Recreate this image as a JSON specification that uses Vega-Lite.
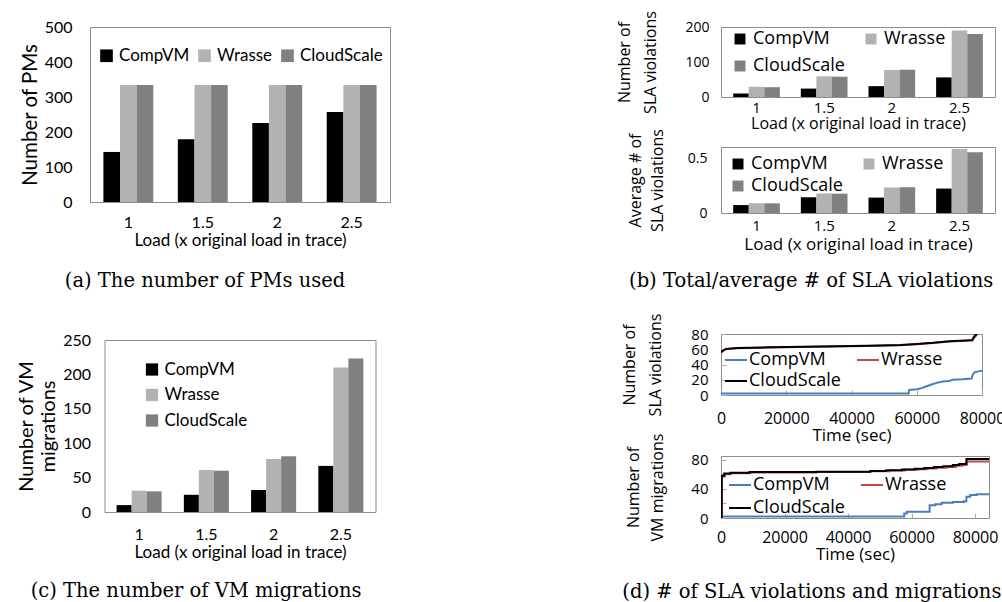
{
  "$schema": "https://vega.github.io/schema/vega-lite/v6.json",
  "background": "white",
  "padding": {"left": 16, "top": 10, "right": 0, "bottom": 0},
  "config": {
    "view": {"stroke": "#8c8c8c", "strokeWidth": 1},
    "axis": {"domain": false, "ticks": false, "grid": false, "labelColor": "#000", "titleColor": "#000", "titleFontWeight": "normal"},
    "legend": {"title": null, "labelColor": "#000"},
    "title": {"font": "DejaVu Serif", "fontSize": 19.5, "fontWeight": "normal", "color": "#000"}
  },
  "datasets": {
    "pms": [
      {"load": "1", "algo": "CompVM", "value": 143}, {"load": "1", "algo": "Wrasse", "value": 334}, {"load": "1", "algo": "CloudScale", "value": 334},
      {"load": "1.5", "algo": "CompVM", "value": 179}, {"load": "1.5", "algo": "Wrasse", "value": 334}, {"load": "1.5", "algo": "CloudScale", "value": 334},
      {"load": "2", "algo": "CompVM", "value": 226}, {"load": "2", "algo": "Wrasse", "value": 334}, {"load": "2", "algo": "CloudScale", "value": 334},
      {"load": "2.5", "algo": "CompVM", "value": 257}, {"load": "2.5", "algo": "Wrasse", "value": 334}, {"load": "2.5", "algo": "CloudScale", "value": 334}
    ],
    "migr": [
      {"load": "1", "algo": "CompVM", "value": 10}, {"load": "1", "algo": "Wrasse", "value": 31}, {"load": "1", "algo": "CloudScale", "value": 30},
      {"load": "1.5", "algo": "CompVM", "value": 25}, {"load": "1.5", "algo": "Wrasse", "value": 61}, {"load": "1.5", "algo": "CloudScale", "value": 60},
      {"load": "2", "algo": "CompVM", "value": 32}, {"load": "2", "algo": "Wrasse", "value": 77}, {"load": "2", "algo": "CloudScale", "value": 81},
      {"load": "2.5", "algo": "CompVM", "value": 67}, {"load": "2.5", "algo": "Wrasse", "value": 210}, {"load": "2.5", "algo": "CloudScale", "value": 223}
    ],
    "slatotal": [
      {"load": "1", "algo": "CompVM", "value": 10}, {"load": "1", "algo": "Wrasse", "value": 29}, {"load": "1", "algo": "CloudScale", "value": 28},
      {"load": "1.5", "algo": "CompVM", "value": 24}, {"load": "1.5", "algo": "Wrasse", "value": 59}, {"load": "1.5", "algo": "CloudScale", "value": 58},
      {"load": "2", "algo": "CompVM", "value": 31}, {"load": "2", "algo": "Wrasse", "value": 77}, {"load": "2", "algo": "CloudScale", "value": 78},
      {"load": "2.5", "algo": "CompVM", "value": 56}, {"load": "2.5", "algo": "Wrasse", "value": 190}, {"load": "2.5", "algo": "CloudScale", "value": 180}
    ],
    "slaavg": [
      {"load": "1", "algo": "CompVM", "value": 0.072}, {"load": "1", "algo": "Wrasse", "value": 0.088}, {"load": "1", "algo": "CloudScale", "value": 0.088},
      {"load": "1.5", "algo": "CompVM", "value": 0.143}, {"load": "1.5", "algo": "Wrasse", "value": 0.178}, {"load": "1.5", "algo": "CloudScale", "value": 0.176},
      {"load": "2", "algo": "CompVM", "value": 0.14}, {"load": "2", "algo": "Wrasse", "value": 0.232}, {"load": "2", "algo": "CloudScale", "value": 0.234},
      {"load": "2.5", "algo": "CompVM", "value": 0.222}, {"load": "2.5", "algo": "Wrasse", "value": 0.582}, {"load": "2.5", "algo": "CloudScale", "value": 0.553}
    ],
    "slatime": [
      {"algo": "CompVM", "t": 0, "v": 2}, {"algo": "CompVM", "t": 57500, "v": 2}, {"algo": "CompVM", "t": 57700, "v": 6.5}, {"algo": "CompVM", "t": 60000, "v": 7.5},
      {"algo": "CompVM", "t": 61500, "v": 9}, {"algo": "CompVM", "t": 63000, "v": 11.5}, {"algo": "CompVM", "t": 65000, "v": 14.5}, {"algo": "CompVM", "t": 66500, "v": 16.5},
      {"algo": "CompVM", "t": 68500, "v": 18}, {"algo": "CompVM", "t": 70000, "v": 18.5}, {"algo": "CompVM", "t": 71000, "v": 20}, {"algo": "CompVM", "t": 74000, "v": 20.5},
      {"algo": "CompVM", "t": 76800, "v": 21.5}, {"algo": "CompVM", "t": 77200, "v": 27}, {"algo": "CompVM", "t": 77800, "v": 30}, {"algo": "CompVM", "t": 79000, "v": 31}, {"algo": "CompVM", "t": 80000, "v": 32},
      {"algo": "Wrasse", "t": 0, "v": 55}, {"algo": "Wrasse", "t": 500, "v": 57.5}, {"algo": "Wrasse", "t": 1500, "v": 60}, {"algo": "Wrasse", "t": 5000, "v": 61.2},
      {"algo": "Wrasse", "t": 15000, "v": 62.3}, {"algo": "Wrasse", "t": 30000, "v": 63.3}, {"algo": "Wrasse", "t": 45000, "v": 64.3}, {"algo": "Wrasse", "t": 55000, "v": 65.3},
      {"algo": "Wrasse", "t": 60000, "v": 66.7}, {"algo": "Wrasse", "t": 65000, "v": 68.2}, {"algo": "Wrasse", "t": 70000, "v": 70}, {"algo": "Wrasse", "t": 75000, "v": 71},
      {"algo": "Wrasse", "t": 77000, "v": 71.5}, {"algo": "Wrasse", "t": 77600, "v": 75}, {"algo": "Wrasse", "t": 78200, "v": 78}, {"algo": "Wrasse", "t": 78600, "v": 80},
      {"algo": "CloudScale", "t": 0, "v": 56}, {"algo": "CloudScale", "t": 500, "v": 58}, {"algo": "CloudScale", "t": 1500, "v": 60.5}, {"algo": "CloudScale", "t": 5000, "v": 61.5},
      {"algo": "CloudScale", "t": 15000, "v": 62.5}, {"algo": "CloudScale", "t": 30000, "v": 63.5}, {"algo": "CloudScale", "t": 45000, "v": 64.5}, {"algo": "CloudScale", "t": 55000, "v": 65.5},
      {"algo": "CloudScale", "t": 60000, "v": 67}, {"algo": "CloudScale", "t": 65000, "v": 68.5}, {"algo": "CloudScale", "t": 70000, "v": 70.5}, {"algo": "CloudScale", "t": 75000, "v": 71.5},
      {"algo": "CloudScale", "t": 77000, "v": 72}, {"algo": "CloudScale", "t": 77500, "v": 76}, {"algo": "CloudScale", "t": 78000, "v": 79}, {"algo": "CloudScale", "t": 78500, "v": 80}
    ],
    "migrtime": [
      {"algo": "CompVM", "t": 0, "v": 2}, {"algo": "CompVM", "t": 57500, "v": 2}, {"algo": "CompVM", "t": 57700, "v": 6}, {"algo": "CompVM", "t": 58500, "v": 8.7},
      {"algo": "CompVM", "t": 65700, "v": 17.5}, {"algo": "CompVM", "t": 67500, "v": 19}, {"algo": "CompVM", "t": 69500, "v": 21}, {"algo": "CompVM", "t": 73000, "v": 22},
      {"algo": "CompVM", "t": 76500, "v": 23}, {"algo": "CompVM", "t": 77300, "v": 29}, {"algo": "CompVM", "t": 78500, "v": 31.5}, {"algo": "CompVM", "t": 80500, "v": 32.5}, {"algo": "CompVM", "t": 84400, "v": 32.5},
      {"algo": "Wrasse", "t": 0, "v": 0}, {"algo": "Wrasse", "t": 300, "v": 57}, {"algo": "Wrasse", "t": 1200, "v": 60}, {"algo": "Wrasse", "t": 3000, "v": 61.5},
      {"algo": "Wrasse", "t": 9000, "v": 62.5}, {"algo": "Wrasse", "t": 30000, "v": 63}, {"algo": "Wrasse", "t": 47000, "v": 64}, {"algo": "Wrasse", "t": 53000, "v": 65},
      {"algo": "Wrasse", "t": 58000, "v": 66}, {"algo": "Wrasse", "t": 62000, "v": 67}, {"algo": "Wrasse", "t": 65000, "v": 68}, {"algo": "Wrasse", "t": 68000, "v": 69},
      {"algo": "Wrasse", "t": 71000, "v": 70}, {"algo": "Wrasse", "t": 74000, "v": 71.5}, {"algo": "Wrasse", "t": 76000, "v": 72.5}, {"algo": "Wrasse", "t": 77300, "v": 77.5}, {"algo": "Wrasse", "t": 84400, "v": 78},
      {"algo": "CloudScale", "t": 0, "v": 0}, {"algo": "CloudScale", "t": 200, "v": 58}, {"algo": "CloudScale", "t": 1000, "v": 61}, {"algo": "CloudScale", "t": 3000, "v": 62},
      {"algo": "CloudScale", "t": 9000, "v": 63}, {"algo": "CloudScale", "t": 30000, "v": 63.5}, {"algo": "CloudScale", "t": 47000, "v": 64.5}, {"algo": "CloudScale", "t": 52000, "v": 65.5},
      {"algo": "CloudScale", "t": 57000, "v": 66.5}, {"algo": "CloudScale", "t": 61000, "v": 67.5}, {"algo": "CloudScale", "t": 64000, "v": 68.5}, {"algo": "CloudScale", "t": 67000, "v": 70},
      {"algo": "CloudScale", "t": 70000, "v": 71}, {"algo": "CloudScale", "t": 73000, "v": 72.5}, {"algo": "CloudScale", "t": 75000, "v": 74}, {"algo": "CloudScale", "t": 77300, "v": 81}, {"algo": "CloudScale", "t": 84400, "v": 81.5}
    ]
  },
  "bounds": "flush",
  "spacing": 631,
  "resolve": {"scale": {"color": "independent", "x": "independent", "y": "independent", "xOffset": "independent"}, "legend": {"color": "independent"}},
  "hconcat": [
    {
      "bounds": "flush",
      "spacing": 138,
      "center": true,
      "resolve": {"scale": {"color": "independent", "x": "independent", "y": "independent", "xOffset": "independent"}, "legend": {"color": "independent"}},
      "vconcat": [
        {
          "width": 300, "height": 175,
          "data": {"name": "pms"},
          "mark": {"type": "bar"},
          "title": {"text": "(a) The number of PMs used", "orient": "bottom", "anchor": "middle", "frame": "bounds", "offset": 24},
          "encoding": {
            "x": {"field": "load", "type": "nominal", "scale": {"paddingInner": 0.33, "paddingOuter": 0.18},
                  "axis": {"title": "Load (x original load in trace)", "labelAngle": 0, "labelFont": "Lato", "labelFontSize": 16, "titleFont": "Lato", "titleFontSize": 17, "labelPadding": 12, "titlePadding": 2}},
            "xOffset": {"field": "algo", "type": "nominal", "sort": ["CompVM", "Wrasse", "CloudScale"], "scale": {"paddingInner": 0, "paddingOuter": 0}},
            "y": {"field": "value", "type": "quantitative", "scale": {"domain": [0, 500], "nice": false},
                  "axis": {"title": "Number of PMs", "values": [0, 100, 200, 300, 400, 500], "labelFont": "Lato", "labelFontSize": 16, "titleFont": "Lato", "titleFontSize": 20.5, "labelPadding": 18, "titlePadding": 4}},
            "color": {"field": "algo", "type": "nominal", "sort": ["CompVM", "Wrasse", "CloudScale"],
                      "scale": {"domain": ["CompVM", "Wrasse", "CloudScale"], "range": ["#000000", "#b2b2b2", "#808080"]},
                      "legend": {"orient": "none", "legendX": 8, "legendY": 20, "direction": "horizontal", "columns": 3, "symbolType": "square", "symbolSize": 160, "symbolStrokeWidth": 0, "labelFont": "Lato", "labelFontSize": 17, "labelOffset": 4, "columnPadding": 6}}
          }
        },
        {
          "width": 271, "height": 172,
          "data": {"name": "migr"},
          "mark": {"type": "bar"},
          "title": {"text": "(c) The number of VM migrations", "orient": "bottom", "anchor": "middle", "frame": "bounds", "offset": 22},
          "encoding": {
            "x": {"field": "load", "type": "nominal", "scale": {"paddingInner": 0.33, "paddingOuter": 0.18},
                  "axis": {"title": "Load (x original load in trace)", "labelAngle": 0, "labelFont": "Lato", "labelFontSize": 16, "titleFont": "Lato", "titleFontSize": 17, "labelPadding": 14, "titlePadding": 2}},
            "xOffset": {"field": "algo", "type": "nominal", "sort": ["CompVM", "Wrasse", "CloudScale"], "scale": {"paddingInner": 0, "paddingOuter": 0}},
            "y": {"field": "value", "type": "quantitative", "scale": {"domain": [0, 250], "nice": false},
                  "axis": {"title": ["Number of VM", "migrations"], "titleLineHeight": 22, "values": [0, 50, 100, 150, 200, 250], "labelFont": "Lato", "labelFontSize": 16, "titleFont": "Lato", "titleFontSize": 20, "labelPadding": 14, "titlePadding": 4}},
            "color": {"field": "algo", "type": "nominal", "sort": ["CompVM", "Wrasse", "CloudScale"],
                      "scale": {"domain": ["CompVM", "Wrasse", "CloudScale"], "range": ["#000000", "#b2b2b2", "#808080"]},
                      "legend": {"orient": "none", "legendX": 39, "legendY": 21, "direction": "vertical", "symbolType": "square", "symbolSize": 150, "symbolStrokeWidth": 0, "labelFont": "Lato", "labelFontSize": 17, "labelOffset": 4, "rowPadding": 7.5}}
          }
        }
      ]
    },
    {
      "bounds": "flush",
      "spacing": 307,
      "resolve": {"scale": {"color": "independent", "x": "independent", "y": "independent", "xOffset": "independent"}, "legend": {"color": "independent"}},
      "vconcat": [
        {
          "bounds": "flush",
          "spacing": 50,
          "resolve": {"scale": {"color": "independent", "x": "independent", "y": "independent", "xOffset": "independent"}, "legend": {"color": "independent"}},
          "vconcat": [
            {
              "width": 274, "height": 70,
              "data": {"name": "slatotal"},
              "mark": {"type": "bar"},
              "encoding": {
                "x": {"field": "load", "type": "nominal", "scale": {"paddingInner": 0.31, "paddingOuter": 0.18},
                      "axis": {"title": "Load (x original load in trace)", "labelAngle": 0, "labelFont": "Open Sans", "labelFontSize": 15, "titleFont": "Open Sans", "titleFontSize": 16, "labelPadding": 3, "titlePadding": 0}},
                "xOffset": {"field": "algo", "type": "nominal", "sort": ["CompVM", "Wrasse", "CloudScale"], "scale": {"paddingInner": 0, "paddingOuter": 0}},
                "y": {"field": "value", "type": "quantitative", "scale": {"domain": [0, 200], "nice": false},
                      "axis": {"title": ["Number of", "SLA violations"], "titleLineHeight": 26, "values": [0, 100, 200], "labelFont": "Open Sans", "labelFontSize": 14, "titleFont": "Open Sans", "titleFontSize": 16, "labelPadding": 12, "titlePadding": 26}},
                "color": {"field": "algo", "type": "nominal", "sort": ["CompVM", "Wrasse", "CloudScale"],
                          "scale": {"domain": ["CompVM", "Wrasse", "CloudScale"], "range": ["#000000", "#b2b2b2", "#808080"]},
                          "legend": {"orient": "none", "legendX": 10, "legendY": 3, "direction": "horizontal", "columns": 2, "symbolType": "square", "symbolSize": 120, "symbolStrokeWidth": 0, "labelFont": "Open Sans", "labelFontSize": 18, "labelOffset": 4, "columnPadding": 17, "rowPadding": 9}}
              }
            },
            {
              "width": 274, "height": 66,
              "data": {"name": "slaavg"},
              "mark": {"type": "bar"},
              "title": {"text": "(b) Total/average # of SLA violations", "orient": "bottom", "anchor": "middle", "frame": "bounds", "offset": 20},
              "encoding": {
                "x": {"field": "load", "type": "nominal", "scale": {"paddingInner": 0.31, "paddingOuter": 0.18},
                      "axis": {"title": "Load (x original load in trace)", "labelAngle": 0, "labelFont": "Open Sans", "labelFontSize": 15, "titleFont": "Open Sans", "titleFontSize": 17, "labelPadding": 5, "titlePadding": 3}},
                "xOffset": {"field": "algo", "type": "nominal", "sort": ["CompVM", "Wrasse", "CloudScale"], "scale": {"paddingInner": 0, "paddingOuter": 0}},
                "y": {"field": "value", "type": "quantitative", "scale": {"domain": [0, 0.6], "nice": false},
                      "axis": {"title": ["Average # of", "SLA violations"], "titleLineHeight": 22, "values": [0, 0.5], "format": ".1~f", "labelFont": "Open Sans", "labelFontSize": 14, "titleFont": "Open Sans", "titleFontSize": 16, "labelPadding": 14, "titlePadding": 22}},
                "color": {"field": "algo", "type": "nominal", "sort": ["CompVM", "Wrasse", "CloudScale"],
                          "scale": {"domain": ["CompVM", "Wrasse", "CloudScale"], "range": ["#000000", "#b2b2b2", "#808080"]},
                          "legend": {"orient": "none", "legendX": 8, "legendY": 8, "direction": "horizontal", "columns": 2, "symbolType": "square", "symbolSize": 120, "symbolStrokeWidth": 0, "labelFont": "Open Sans", "labelFontSize": 18, "labelOffset": 4, "columnPadding": 17, "rowPadding": 4}}
              }
            }
          ]
        },
        {
          "bounds": "flush",
          "spacing": 61,
          "resolve": {"scale": {"color": "independent", "x": "independent", "y": "independent"}, "legend": {"color": "independent"}},
          "vconcat": [
            {
              "width": 261, "height": 61,
              "data": {"name": "slatime"},
              "mark": {"type": "line", "strokeWidth": 2, "clip": true},
              "encoding": {
                "x": {"field": "t", "type": "quantitative", "scale": {"domain": [0, 80000], "nice": false},
                      "axis": {"title": "Time (sec)", "values": [0, 20000, 40000, 60000, 80000], "format": "d", "labelFont": "Open Sans", "labelFontSize": 16, "titleFont": "Open Sans", "titleFontSize": 17, "labelPadding": 20, "titlePadding": 1, "ticks": true, "tickSize": -5, "tickColor": "#aaaaaa", "labelFlush": false}},
                "y": {"field": "v", "type": "quantitative", "scale": {"domain": [0, 80], "nice": false},
                      "axis": {"title": ["Number of", "SLA violations"], "titleLineHeight": 26, "values": [0, 20, 40, 60, 80], "labelFont": "Open Sans", "labelFontSize": 15, "titleFont": "Open Sans", "titleFontSize": 16, "labelPadding": 18, "titlePadding": 27, "ticks": true, "tickSize": -5, "tickColor": "#aaaaaa"}},
                "color": {"field": "algo", "type": "nominal", "sort": ["CompVM", "Wrasse", "CloudScale"],
                          "scale": {"domain": ["CompVM", "Wrasse", "CloudScale"], "range": ["#4a7ebb", "#be4b48", "#000000"]},
                          "legend": {"orient": "none", "legendX": 3, "legendY": 14, "direction": "horizontal", "columns": 2, "symbolType": "stroke", "symbolSize": 484, "symbolStrokeWidth": 2, "labelFont": "Open Sans", "labelFontSize": 18, "labelOffset": 1, "columnPadding": 12, "rowPadding": 0}}
              }
            },
            {
              "width": 268, "height": 62,
              "data": {"name": "migrtime"},
              "mark": {"type": "line", "strokeWidth": 2, "interpolate": "step-after", "clip": true},
              "title": {"text": "(d) # of SLA violations and migrations", "orient": "bottom", "anchor": "middle", "frame": "bounds", "offset": 21},
              "encoding": {
                "x": {"field": "t", "type": "quantitative", "scale": {"domain": [0, 84400], "nice": false},
                      "axis": {"title": "Time (sec)", "values": [0, 20000, 40000, 60000, 80000], "format": "d", "labelFont": "Open Sans", "labelFontSize": 16, "titleFont": "Open Sans", "titleFontSize": 17, "labelPadding": 16, "titlePadding": 1, "ticks": true, "tickSize": -5, "tickColor": "#aaaaaa", "labelFlush": false}},
                "y": {"field": "v", "type": "quantitative", "scale": {"domain": [0, 85], "nice": false},
                      "axis": {"title": ["Number of", "VM migrations"], "titleLineHeight": 24, "values": [0, 20, 40, 60, 80], "labelFont": "Open Sans", "labelFontSize": 15, "titleFont": "Open Sans", "titleFontSize": 16, "labelPadding": 18, "titlePadding": 25, "ticks": true, "tickSize": -5, "tickColor": "#aaaaaa"}},
                "color": {"field": "algo", "type": "nominal", "sort": ["CompVM", "Wrasse", "CloudScale"],
                          "scale": {"domain": ["CompVM", "Wrasse", "CloudScale"], "range": ["#4a7ebb", "#be4b48", "#000000"]},
                          "legend": {"orient": "none", "legendX": 7, "legendY": 17, "direction": "horizontal", "columns": 2, "symbolType": "stroke", "symbolSize": 484, "symbolStrokeWidth": 2, "labelFont": "Open Sans", "labelFontSize": 18, "labelOffset": 1, "columnPadding": 12, "rowPadding": 2}}
              }
            }
          ]
        }
      ]
    }
  ]
}
